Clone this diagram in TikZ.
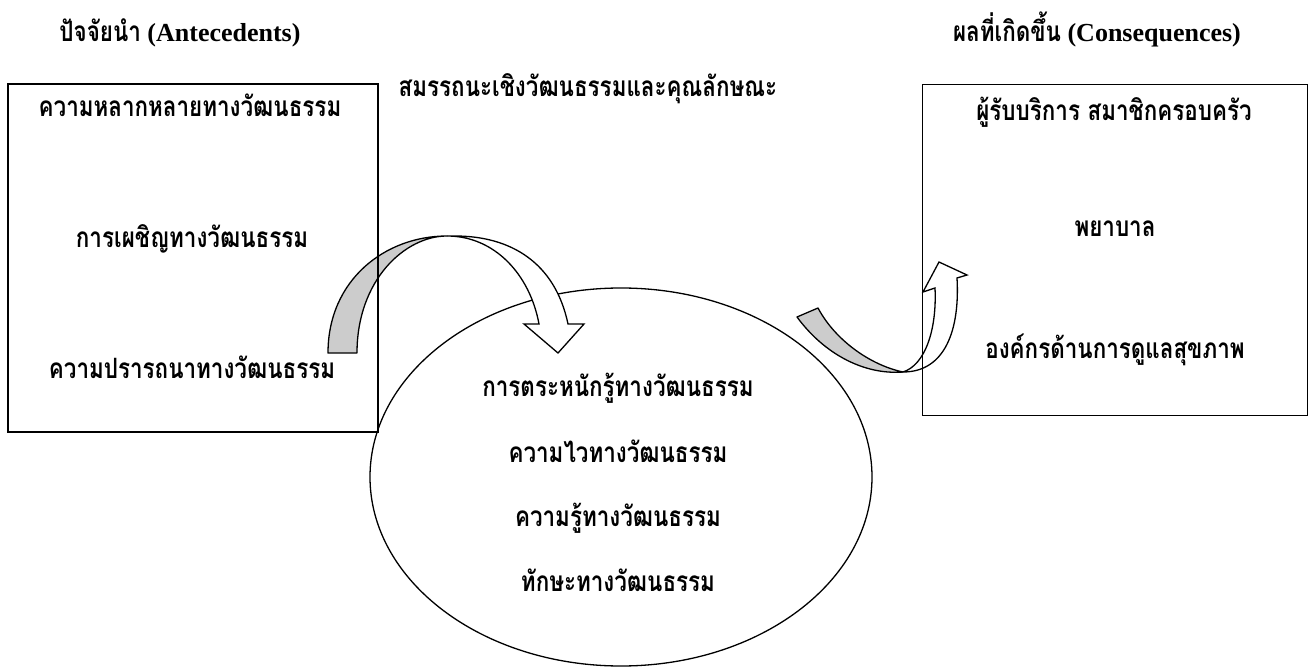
\documentclass[tikz,border=0pt]{standalone}
\usepackage{fontspec}
\setmainfont{Liberation Serif}
\newfontfamily\thaifont[Script=Thai,FakeStretch=0.8]{Loma}
\usetikzlibrary{shapes.geometric}
\tikzstyle{every node}=[inner sep=0pt,outer sep=0pt]
\tikzstyle{lbl}=[anchor=base,font=\thf]
\tikzstyle{head}=[anchor=base,font=\bfseries\fontsize{26}{30}\selectfont]
\tikzstyle{frame}=[draw=black,line width=1.3pt]
\tikzstyle{backface}=[draw=black,fill=black!20,line width=1.3pt,line join=round]
\tikzstyle{frontface}=[draw=black,fill=white,line width=1.3pt,line join=miter]
\newcommand{\thf}{\thaifont\bfseries\fontsize{28}{32}\selectfont}

\begin{document}
\begin{tikzpicture}[x=1pt,y=-1pt]
    \useasboundingbox (0,0) rectangle (1312,668);
    % headings
    \node[head] (hante) at (180,42) {{\thf ปัจจัยนำ} (Antecedents)};
    \node[head] (hcons) at (1097,42) {{\thf ผลที่เกิดขึ้น} (Consequences)};
    \node[lbl] (htitle) at (588,97) {สมรรถนะเชิงวัฒนธรรมและคุณลักษณะ};
    % competence
    \node[frame,ellipse,minimum width=502pt,minimum height=378pt] (comp) at (621,477) {};
    \node[lbl] (aware) at (618,396) {การตระหนักรู้ทางวัฒนธรรม};
    \node[lbl] (sens) at (618,462) {ความไวทางวัฒนธรรม};
    \node[lbl] (know) at (618,526) {ความรู้ทางวัฒนธรรม};
    \node[lbl] (skill) at (618,591) {ทักษะทางวัฒนธรรม};
    % curved arrows
    \draw[backface] (328,353) .. controls (328,280) and (385,236) .. (447,236)
      .. controls (405,236) and (357,280) .. (357,353) -- cycle;
    \draw[frontface] (447,236) .. controls (495,236) and (530,275) .. (539,324)
      -- (524,324) -- (558,353) -- (584,324) -- (568,324)
      .. controls (555,262) and (510,236) .. (455,236) -- cycle;
    \draw[backface] (797,317) .. controls (825,355) and (865,375) .. (903,372)
      .. controls (870,365) and (835,340) .. (818,308) -- cycle;
    \draw[frontface] (903,372) .. controls (925,365) and (937,330) .. (935,288)
      -- (923,292) -- (939,262) -- (967,275) -- (957,278)
      .. controls (960,330) and (945,372) .. (903,372) -- cycle;
    % antecedents
    \node[frame,minimum width=370pt,minimum height=348pt] (ante) at (193,258) {};
    \node[lbl] (divers) at (190,117) {ความหลากหลายทางวัฒนธรรม};
    \node[lbl] (encount) at (192,248) {การเผชิญทางวัฒนธรรม};
    \node[lbl] (desire) at (192,378) {ความปรารถนาทางวัฒนธรรม};
    % consequences
    \node[frame,minimum width=385pt,minimum height=331pt] (cons) at (1115,250) {};
    \node[lbl] (client) at (1114,121) {ผู้รับบริการ สมาชิกครอบครัว};
    \node[lbl] (nurse) at (1115,237) {พยาบาล};
    \node[lbl] (org) at (1115,359) {องค์กรด้านการดูแลสุขภาพ};
\end{tikzpicture}
\end{document}
